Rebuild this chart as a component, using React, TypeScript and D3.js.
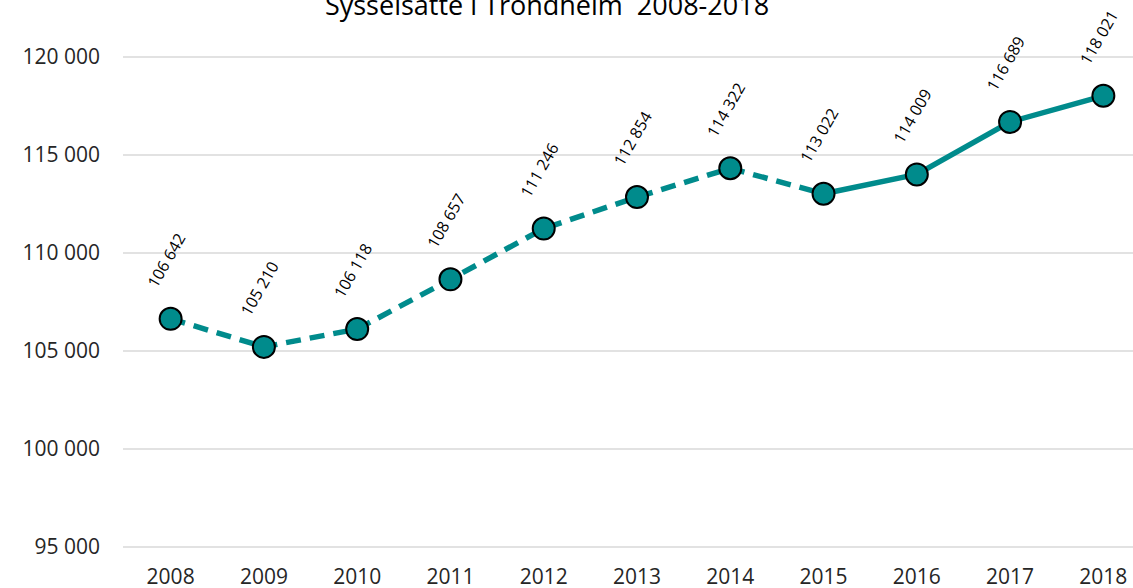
import { useEffect, useRef } from 'react';
import * as d3 from 'd3';

const years = ['2008', '2009', '2010', '2011', '2012', '2013', '2014', '2015', '2016', '2017', '2018'];
const employed = [106642, 105210, 106118, 108657, 111246, 112854, 114322, 113022, 114009, 116689, 118021];
const yTicks = [95000, 100000, 105000, 110000, 115000, 120000];
// last year drawn with a dashed line
const dashedUntil = '2015';

const App = () => {
  const svgRef = useRef(null);

  useEffect(() => {
    const width = 1133;
    const height = 588;
    const teal = '#008b8c';
    const font = "'Open Sans', sans-serif";

    const svg = d3.select(svgRef.current);
    svg.selectAll('*').remove();
    svg.attr('width', width).attr('height', height);

    const data = years.map((year, i) => ({ year, value: employed[i] }));

    const x = d3.scaleBand().domain(years).range([124, 1150]);
    const y = d3.scaleLinear().domain([95000, 120000]).range([547, 57]);
    const cx = (d) => x(d.year) + x.bandwidth() / 2;

    const fmt = (v) => d3.format(',')(v).replace(/,/g, ' ');

    // Title (cut at the top like the original)
    svg
      .append('text')
      .attr('x', 547)
      .attr('y', 15)
      .attr('text-anchor', 'middle')
      .attr('font-family', font)
      .attr('font-size', '27px')
      .attr('fill', '#000')
      .style('white-space', 'pre')
      .text('Sysselsatte i Trondheim  2008-2018');

    // Gridlines
    svg
      .append('g')
      .selectAll('line')
      .data(yTicks)
      .join('line')
      .attr('x1', 123)
      .attr('x2', width)
      .attr('y1', (d) => y(d))
      .attr('y2', (d) => y(d))
      .attr('stroke', '#d9d9d9')
      .attr('stroke-width', 1.5);

    // Y axis labels
    svg
      .append('g')
      .selectAll('text')
      .data(yTicks)
      .join('text')
      .attr('x', 100)
      .attr('y', (d) => y(d))
      .attr('dy', '0.35em')
      .attr('text-anchor', 'end')
      .attr('font-family', font)
      .attr('font-size', '21px')
      .attr('fill', '#262626')
      .text(fmt);

    // X axis labels
    svg
      .append('g')
      .selectAll('text')
      .data(years)
      .join('text')
      .attr('x', (d) => x(d) + x.bandwidth() / 2)
      .attr('y', 584)
      .attr('text-anchor', 'middle')
      .attr('font-family', font)
      .attr('font-size', '21px')
      .attr('fill', '#262626')
      .text((d) => d);

    // Line: dashed part then solid part
    const line = d3
      .line()
      .x(cx)
      .y((d) => y(d.value));

    const split = years.indexOf(dashedUntil);

    svg
      .append('path')
      .datum(data.slice(0, split + 1))
      .attr('fill', 'none')
      .attr('stroke', teal)
      .attr('stroke-width', 5.5)
      .attr('stroke-dasharray', '15 9')
      .attr('d', line);

    svg
      .append('path')
      .datum(data.slice(split))
      .attr('fill', 'none')
      .attr('stroke', teal)
      .attr('stroke-width', 5.5)
      .attr('stroke-linejoin', 'round')
      .attr('d', line);

    // Markers
    svg
      .append('g')
      .selectAll('circle')
      .data(data)
      .join('circle')
      .attr('cx', cx)
      .attr('cy', (d) => y(d.value))
      .attr('r', 11)
      .attr('fill', teal)
      .attr('stroke', '#000')
      .attr('stroke-width', 2);

    // Rotated data labels
    svg
      .append('g')
      .selectAll('text')
      .data(data)
      .join('text')
      .attr('transform', (d) => `translate(${cx(d) - 14},${y(d.value) - 30}) rotate(-60)`)
      .attr('font-family', font)
      .attr('font-size', '16px')
      .attr('fill', '#000')
      .text((d) => fmt(d.value));
  }, []);

  return (
    <div style={{ position: 'absolute', left: 0, top: 0 }}>
      <svg ref={svgRef} style={{ display: 'block', background: '#fff' }}></svg>
    </div>
  );
};

export default App;
